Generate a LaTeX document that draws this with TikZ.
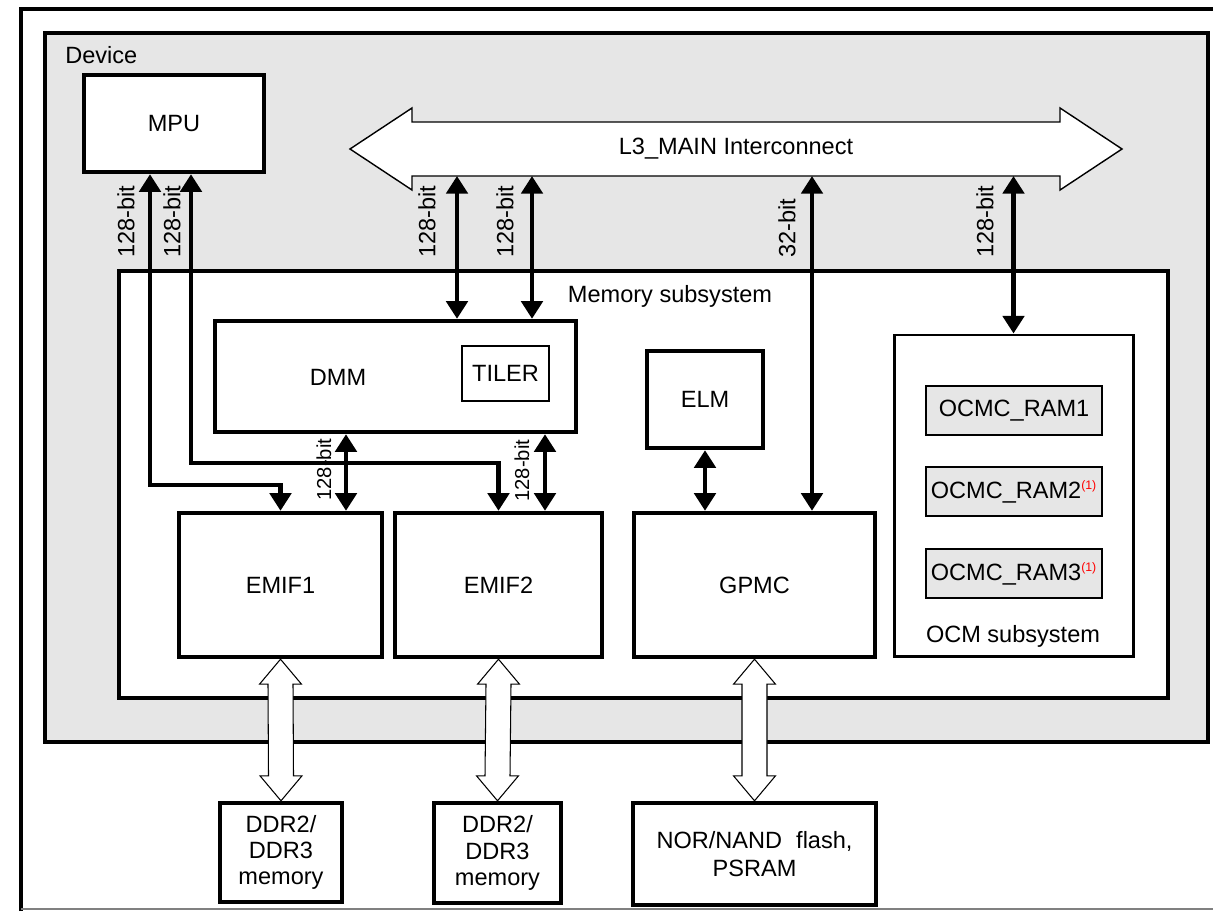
\documentclass[tikz,border=0pt]{standalone}
\usepackage{fontspec}
\setmainfont{Liberation Sans}
\usetikzlibrary{arrows.meta,calc}
\definecolor{devgray}{RGB}{230,230,230}
\newcommand{\fnote}{\textsuperscript{\fontsize{7}{7}\selectfont\color{red}(1)}}
\tikzstyle{box}=[rectangle,draw,line width=2.5pt,fill=white,text=black,inner sep=0pt]
\tikzstyle{ram}=[rectangle,draw,line width=1.1pt,fill=devgray,inner sep=0pt,minimum width=3.52cm,minimum height=0.98cm]
\tikzstyle{bus}=[<->,line width=2.6pt,>={Triangle[width=12pt,length=10pt]}]
\tikzstyle{busL}=[rotate=90,anchor=west,inner sep=0pt]
\tikzstyle{wide}=[draw,line width=0.6pt,fill=white]

\begin{document}
\begin{tikzpicture}[font=\fontsize{13.4}{15}\selectfont]
  \useasboundingbox (0,0) rectangle (24.26,-18.22);
  % page frame
  \draw[line width=2.8pt] (0.42,-18.22) -- (0.42,-0.18) -- (24.26,-0.18);
  \draw[gray,line width=0.6pt] (0.42,-18.18) -- (24.26,-18.18);

  \node[box,fill=devgray,minimum width=23.26cm,minimum height=14.18cm] (dev) at (12.53,-7.75) {};
  \node[anchor=west,inner sep=0pt] (devL) at (1.30,-1.10) {Device};

  % interconnect
  \draw[line width=0.8pt,fill=white] (7.00,-2.98) -- (8.24,-2.16) -- (8.24,-2.44) -- (21.20,-2.44)
    -- (21.20,-2.16) -- (22.44,-2.98) -- (21.20,-3.80) -- (21.20,-3.52) -- (8.24,-3.52) -- (8.24,-3.80) -- cycle;
  \node[minimum width=12.96cm,minimum height=1.08cm,inner sep=0pt,outer sep=0pt] (L3) at (14.72,-2.98) {L3\_MAIN Interconnect};

  \node[box,minimum width=3.6cm,minimum height=1.94cm] (MPU) at (3.48,-2.47) {MPU};

  % memory subsystem
  \node[box,minimum width=20.98cm,minimum height=8.54cm] (mem) at (12.87,-9.69) {};
  \node (memL) at (13.40,-5.92) {Memory subsystem};
  \node[box,minimum width=7.22cm,minimum height=2.22cm] (DMM) at (7.91,-7.53) {};
  \node (DMML) at (6.76,-7.54) {DMM};
  \node[box,line width=1.1pt,minimum width=1.74cm,minimum height=1.10cm] (TIL) at (10.11,-7.47) {TILER};
  \node[box,minimum width=4.06cm,minimum height=2.88cm] (EMIF1) at (5.61,-11.70) {EMIF1};
  \node[box,minimum width=4.14cm,minimum height=2.88cm] (EMIF2) at (9.97,-11.70) {EMIF2};
  \node[box,minimum width=2.32cm,minimum height=1.94cm] (ELM) at (14.10,-7.99) {ELM};
  \node[box,minimum width=4.82cm,minimum height=2.88cm] (GPMC) at (15.09,-11.70) {GPMC};

  \node[box,line width=1.7pt,minimum width=4.78cm,minimum height=6.42cm] (OCM) at (20.27,-9.91) {};
  \node (OCML) at (20.26,-12.72) {OCM subsystem};
  \node[ram] (R1) at (20.28,-8.21) {OCMC\_RAM1};
  \node[ram] (R2) at (20.28,-9.83) {OCMC\_RAM2\fnote};
  \node[ram] (R3) at (20.28,-11.47) {OCMC\_RAM3\fnote};

  % external memories
  \node[box,minimum width=2.44cm,minimum height=1.98cm,align=center] (DDRa) at (5.62,-17.05) {DDR2/\\DDR3\\memory};
  \node[box,minimum width=2.54cm,minimum height=2.00cm,align=center] (DDRb) at (9.95,-17.06) {DDR2/\\DDR3\\memory};
  \node[box,minimum width=4.86cm,minimum height=2.04cm,align=center,font=\fontsize{13.4}{16}\selectfont] (NOR) at (15.09,-17.08) {NOR/NAND\hspace{0.6em}flash,\\PSRAM};

  % buses
  \coordinate (m1) at (3.00,-9.70);
  \coordinate (m2) at (3.82,-9.26);
  \coordinate (x1) at (9.14,0);
  \coordinate (x2) at (10.64,0);
  \coordinate (x3) at (16.24,0);
  \coordinate (x4) at (6.92,0);
  \coordinate (x5) at (10.90,0);
  \draw[bus] (MPU.south -| m1) -- (m1) -| (EMIF1.north);
  \draw[bus] (MPU.south -| m2) -- (m2) -| (EMIF2.north);
  \draw[bus] (L3.south -| x1) -- (DMM.north -| x1);
  \draw[bus] (L3.south -| x2) -- (DMM.north -| x2);
  \draw[bus] (L3.south -| x3) -- (GPMC.north -| x3);
  \draw[bus] (L3.south -| OCM.north) -- (OCM.north);
  \draw[bus] (DMM.south -| x4) -- (EMIF1.north -| x4);
  \draw[bus] (DMM.south -| x5) -- (EMIF2.north -| x5);
  \draw[bus] (ELM.south) -- (GPMC.north -| ELM.south);

  \foreach \a/\b in {EMIF1/DDRa,EMIF2/DDRb,GPMC/NOR}
    \draw[wide] (\a.south) -- ++(0.42,-0.5) -- ++(-0.17,0) -- ($(\b.north)+(0.25,0.5)$) -- ++(0.17,0)
      -- (\b.north) -- ++(-0.42,0.5) -- ++(0.17,0) -- ($(\a.south)+(-0.25,-0.5)$) -- ++(-0.17,0) -- cycle;

  % bus widths
  \node[busL] (w1) at (2.52,-5.16) {128-bit};
  \node[busL] (w2) at (3.44,-5.16) {128-bit};
  \node[busL] (w3) at (8.54,-5.16) {128-bit};
  \node[busL] (w4) at (10.10,-5.16) {128-bit};
  \node[busL] (w5) at (15.74,-5.16) {32-bit};
  \node[busL] (w6) at (19.70,-5.16) {128-bit};
  \node[busL,font=\fontsize{11.5}{13}\selectfont] (w7) at (6.48,-10.02) {128-bit};
  \node[busL,font=\fontsize{11.5}{13}\selectfont] (w8) at (10.44,-10.04) {128-bit};
\end{tikzpicture}
\end{document}
